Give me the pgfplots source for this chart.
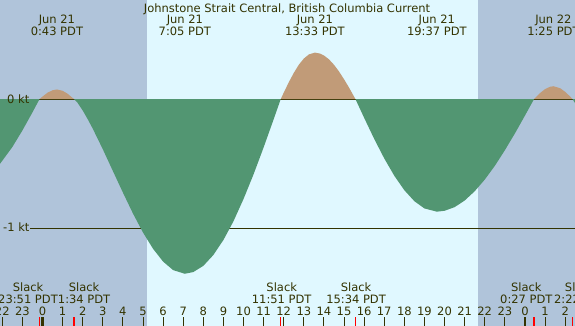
\documentclass[border=0pt]{standalone}
\usepackage{pgfplots}
\pgfplotsset{compat=1.18}
\usepackage{fontspec}
\setmainfont{DejaVu Sans}
\definecolor{darkbg}{RGB}{176,196,218}
\definecolor{lightbg}{RGB}{224,248,255}
\definecolor{ebb}{RGB}{82,150,114}
\definecolor{flood}{RGB}{193,155,120}
\definecolor{txt}{RGB}{51,51,0}
\begin{document}
\fontsize{11.5}{13}\selectfont
\begin{tikzpicture}
\useasboundingbox (0,0) rectangle (575pt,326pt);
\clip (0,0) rectangle (575pt,326pt);
\begin{axis}[
  at={(0,0)}, anchor=south west,
  width=575pt, height=326pt, scale only axis,
  xmin=-2.114, xmax=26.49, ymin=-1.754, ymax=0.767,
  hide axis, clip=false,
]
% backgrounds (night / day)
\fill[darkbg] (axis cs:-2.114,-1.754) rectangle (axis cs:5.18,0.767);
\fill[lightbg] (axis cs:5.18,-1.754) rectangle (axis cs:21.65,0.767);
\fill[darkbg] (axis cs:21.65,-1.754) rectangle (axis cs:26.49,0.767);
% reference lines
\draw[txt, line width=1pt] (axis cs:-0.62,0) -- (axis cs:26.49,0);
\draw[txt, line width=1pt] (axis cs:-0.62,-1) -- (axis cs:26.49,-1);
% current curve
\addplot[fill=ebb, draw=none] coordinates {(-2.114,0) (-2.114,-0.5) (-1.5,-0.37) (-1,-0.242) (-0.5,-0.102) (-0.15,0)};
\addplot[fill=flood, draw=none] coordinates {(-0.15,0) (0,0.020) (0.25,0.050) (0.5,0.069) (0.72,0.075) (1.0,0.065) (1.25,0.042) (1.57,0)};
\addplot[fill=ebb, draw=none] coordinates {(1.57,0) (1.75,-0.029) (2,-0.087) (2.25,-0.155) (2.5,-0.228) (3,-0.387) (3.5,-0.555) (4,-0.722) (4.5,-0.884) (5,-1.031) (5.5,-1.157) (6,-1.256) (6.5,-1.322) (7.08,-1.35) (7.5,-1.337) (8,-1.289) (8.5,-1.205) (9,-1.089) (9.5,-0.944) (10,-0.772) (10.5,-0.581) (11,-0.373) (11.5,-0.155) (11.85,0)};
\addplot[fill=flood, draw=none] coordinates {(11.85,0) (12,0.05) (12.25,0.130) (12.5,0.203) (12.75,0.266) (13,0.314) (13.25,0.346) (13.55,0.36) (13.8,0.353) (14,0.338) (14.25,0.308) (14.5,0.266) (14.75,0.214) (15,0.154) (15.25,0.089) (15.57,0)};
\addplot[fill=ebb, draw=none] coordinates {(15.57,0) (16,-0.144) (16.5,-0.307) (17,-0.458) (17.5,-0.592) (18,-0.704) (18.5,-0.789) (19,-0.845) (19.62,-0.87) (20,-0.863) (20.5,-0.835) (21,-0.784) (21.5,-0.712) (22,-0.622) (22.5,-0.516) (23,-0.395) (23.5,-0.265) (24,-0.127) (24.45,0)};
\addplot[fill=flood, draw=none] coordinates {(24.45,0) (24.75,0.047) (25,0.078) (25.25,0.096) (25.42,0.10) (25.75,0.085) (26,0.057) (26.25,0.020) (26.37,0)};
\addplot[fill=ebb, draw=none] coordinates {(26.37,0) (26.49,-0.03) (26.49,0)};
% y labels
\node[txt, anchor=base west, inner sep=0] at (axis cs:-1.766,-0.037) {0 kt};
\node[txt, anchor=base west, inner sep=0] at (axis cs:-1.965,-1.025) {-1 kt};
% title and event labels
\node[txt, anchor=base, inner sep=0] at (axis cs:12.164,0.667) {Johnstone Strait Central, British Columbia Current};
\node[txt, anchor=base, inner sep=0] at (axis cs:0.717,0.582) {Jun 21};
\node[txt, anchor=base, inner sep=0] at (axis cs:0.717,0.491) {0:43 PDT};
\node[txt, anchor=base, inner sep=0] at (axis cs:7.083,0.582) {Jun 21};
\node[txt, anchor=base, inner sep=0] at (axis cs:7.083,0.491) {7:05 PDT};
\node[txt, anchor=base, inner sep=0] at (axis cs:13.55,0.582) {Jun 21};
\node[txt, anchor=base, inner sep=0] at (axis cs:13.55,0.491) {13:33 PDT};
\node[txt, anchor=base, inner sep=0] at (axis cs:19.617,0.582) {Jun 21};
\node[txt, anchor=base, inner sep=0] at (axis cs:19.617,0.491) {19:37 PDT};
\node[txt, anchor=base, inner sep=0] at (axis cs:25.417,0.582) {Jun 22};
\node[txt, anchor=base, inner sep=0] at (axis cs:25.417,0.491) {1:25 PDT};
% slack labels
\node[txt, anchor=base, inner sep=0] at (axis cs:-0.72,-1.491) {Slack};
\node[txt, anchor=base, inner sep=0] at (axis cs:-0.72,-1.579) {23:51 PDT};
\node[txt, anchor=base, inner sep=0] at (axis cs:2.07,-1.491) {Slack};
\node[txt, anchor=base, inner sep=0] at (axis cs:2.07,-1.579) {1:34 PDT};
\node[txt, anchor=base, inner sep=0] at (axis cs:11.9,-1.491) {Slack};
\node[txt, anchor=base, inner sep=0] at (axis cs:11.9,-1.579) {11:51 PDT};
\node[txt, anchor=base, inner sep=0] at (axis cs:15.6,-1.491) {Slack};
\node[txt, anchor=base, inner sep=0] at (axis cs:15.6,-1.579) {15:34 PDT};
\node[txt, anchor=base, inner sep=0] at (axis cs:24.07,-1.491) {Slack};
\node[txt, anchor=base, inner sep=0] at (axis cs:24.07,-1.579) {0:27 PDT};
\node[txt, anchor=base, inner sep=0] at (axis cs:26.75,-1.491) {Slack};
\node[txt, anchor=base, inner sep=0] at (axis cs:26.75,-1.579) {2:22 PDT};
% hour ticks and labels
\pgfplotsinvokeforeach{-2,...,26}{
  \draw[txt, line width=1pt] (axis cs:#1,-1.688) -- (axis cs:#1,-1.754);
}
\draw[txt, line width=2.5pt] (axis cs:0,-1.688) -- (axis cs:0,-1.754);
\draw[txt, line width=2.5pt] (axis cs:24,-1.688) -- (axis cs:24,-1.754);
\pgfplotsinvokeforeach{-0.15,1.57,11.85,15.57,24.45,26.37}{
  \draw[red, line width=1.2pt] (axis cs:#1,-1.688) -- (axis cs:#1,-1.754);
}
\node[txt, anchor=base, inner sep=0] at (axis cs:-2,-1.669) {22};
\node[txt, anchor=base, inner sep=0] at (axis cs:-1,-1.669) {23};
\node[txt, anchor=base, inner sep=0] at (axis cs:0,-1.669) {0};
\node[txt, anchor=base, inner sep=0] at (axis cs:1,-1.669) {1};
\node[txt, anchor=base, inner sep=0] at (axis cs:2,-1.669) {2};
\node[txt, anchor=base, inner sep=0] at (axis cs:3,-1.669) {3};
\node[txt, anchor=base, inner sep=0] at (axis cs:4,-1.669) {4};
\node[txt, anchor=base, inner sep=0] at (axis cs:5,-1.669) {5};
\node[txt, anchor=base, inner sep=0] at (axis cs:6,-1.669) {6};
\node[txt, anchor=base, inner sep=0] at (axis cs:7,-1.669) {7};
\node[txt, anchor=base, inner sep=0] at (axis cs:8,-1.669) {8};
\node[txt, anchor=base, inner sep=0] at (axis cs:9,-1.669) {9};
\node[txt, anchor=base, inner sep=0] at (axis cs:10,-1.669) {10};
\node[txt, anchor=base, inner sep=0] at (axis cs:11,-1.669) {11};
\node[txt, anchor=base, inner sep=0] at (axis cs:12,-1.669) {12};
\node[txt, anchor=base, inner sep=0] at (axis cs:13,-1.669) {13};
\node[txt, anchor=base, inner sep=0] at (axis cs:14,-1.669) {14};
\node[txt, anchor=base, inner sep=0] at (axis cs:15,-1.669) {15};
\node[txt, anchor=base, inner sep=0] at (axis cs:16,-1.669) {16};
\node[txt, anchor=base, inner sep=0] at (axis cs:17,-1.669) {17};
\node[txt, anchor=base, inner sep=0] at (axis cs:18,-1.669) {18};
\node[txt, anchor=base, inner sep=0] at (axis cs:19,-1.669) {19};
\node[txt, anchor=base, inner sep=0] at (axis cs:20,-1.669) {20};
\node[txt, anchor=base, inner sep=0] at (axis cs:21,-1.669) {21};
\node[txt, anchor=base, inner sep=0] at (axis cs:22,-1.669) {22};
\node[txt, anchor=base, inner sep=0] at (axis cs:23,-1.669) {23};
\node[txt, anchor=base, inner sep=0] at (axis cs:24,-1.669) {0};
\node[txt, anchor=base, inner sep=0] at (axis cs:25,-1.669) {1};
\node[txt, anchor=base, inner sep=0] at (axis cs:26,-1.669) {2};
\end{axis}
\end{tikzpicture}
\end{document}
